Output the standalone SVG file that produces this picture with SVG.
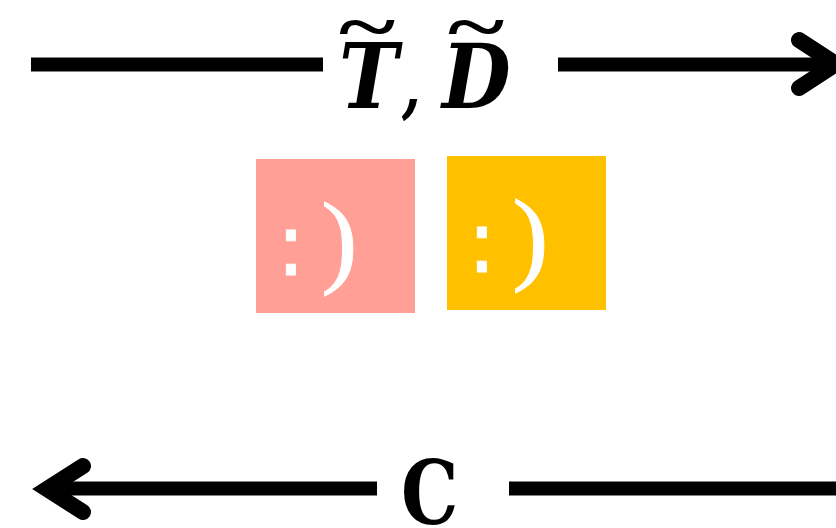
<svg xmlns="http://www.w3.org/2000/svg" width="836" height="528" viewBox="0 0 836 528">
<style>
.c{fill:none;stroke:#000;stroke-width:14}
.h{fill:none;stroke:#000;stroke-width:16;stroke-linecap:round;stroke-linejoin:miter}
.l{font-family:"DejaVu Serif",serif;font-weight:700;fill:#000}
.i{font-style:italic;font-size:90px}
.t{font-family:"Liberation Serif",serif;font-weight:700;font-size:60px;fill:#000}
.d{font-family:"DejaVu Sans",sans-serif;fill:#fff;stroke:#fff;stroke-width:.8;font-size:88px}
.p{font-family:"Liberation Serif",serif;fill:#fff;stroke:#fff;stroke-width:.8;font-size:103px}
</style>
<g id="connectors">
<path class="c" d="M31 64.500H323"/>
<path class="c" d="M558 64.500H830"/>
<path class="h" d="M799 40L836 64L799 88"/>
<path class="c" d="M377 488.500H50"/>
<path class="c" d="M509 488.500H836"/>
<path class="h" d="M83 466L47 489L83 512"/>
</g>
<g id="label-top">
<text class="l i" transform="translate(339 108) scale(.88 1)">T</text>
<text class="l" transform="translate(402 110) scale(.9 1.15)" font-size="60" font-style="italic">,</text>
<text class="l i" transform="translate(442 108) scale(.88 1)">D</text>
<text class="t" transform="translate(339 51) scale(1.8 1.2)">~</text>
<text class="t" transform="translate(448 51) scale(1.8 1.2)">~</text>
</g>
<g id="node-pink"><rect x="256" y="159" width="159" height="154" fill="#ff9f96"/><text class="d" x="276" y="275">:</text><text class="p" transform="translate(321 274) scale(1.07 1)">)</text></g>
<g id="node-amber"><rect x="447" y="156" width="159" height="154" fill="#ffc000"/><text class="d" x="467" y="272">:</text><text class="p" transform="translate(512 271) scale(1.07 1)">)</text></g>
<g id="label-bottom"><text class="l" transform="translate(401 524) scale(.82 1)" font-size="88">C</text></g>
</svg>
